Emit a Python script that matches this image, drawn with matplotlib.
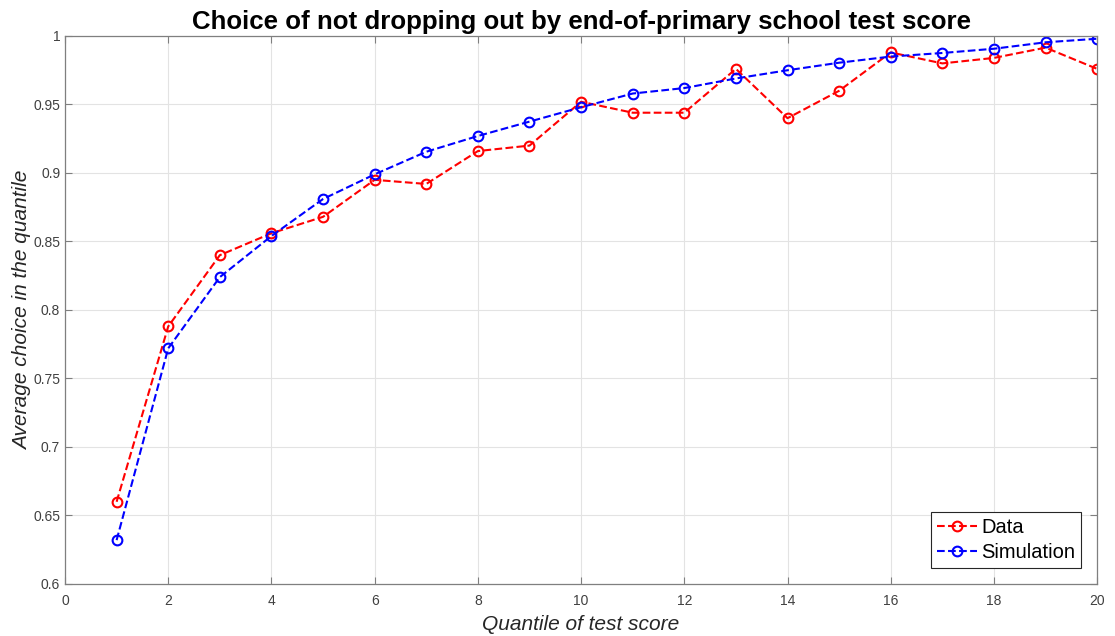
import numpy as np
import matplotlib
matplotlib.use('Agg')
import matplotlib.pyplot as plt

quantile = list(range(1, 21))
data = [0.660, 0.788, 0.840, 0.856, 0.868, 0.895, 0.892, 0.916, 0.920, 0.952,
        0.944, 0.944, 0.976, 0.940, 0.960, 0.988, 0.980, 0.984, 0.9915, 0.976]
simulation = [0.632, 0.772, 0.824, 0.854, 0.881, 0.899, 0.9155, 0.927, 0.9375, 0.948,
              0.958, 0.962, 0.969, 0.975, 0.9805, 0.985, 0.9876, 0.9907, 0.9954, 0.998]
xticks = list(range(0, 21, 2))
yticks = [0.6, 0.65, 0.7, 0.75, 0.8, 0.85, 0.9, 0.95, 1.0]
yticklabels = ['0.6', '0.65', '0.7', '0.75', '0.8', '0.85', '0.9', '0.95', '1']


def main():
  plt.rcParams['font.family'] = ['Liberation Sans', 'DejaVu Sans']
  fig = plt.figure(figsize=(11.15, 6.36), dpi=100)
  ax = fig.add_axes([0.0583, 0.0818, 0.9257, 0.8616])

  ax.plot(quantile, data, '--o', color='red', lw=1.5, ms=7, mfc='none', mew=1.5, label='Data')
  ax.plot(quantile, simulation, '--o', color='blue', lw=1.5, ms=7, mfc='none', mew=1.5, label='Simulation')

  ax.set_xlim(0, 20)
  ax.set_ylim(0.6, 1.0)
  ax.set_xticks(xticks)
  ax.set_yticks(yticks)
  ax.set_yticklabels(yticklabels)
  ax.grid(True, color='#e3e3e3', lw=0.8)
  ax.set_axisbelow(True)
  ax.tick_params(direction='in', length=5, colors='#7f7f7f', labelsize=10, labelcolor='#404040')
  ax.tick_params(top=True, right=True)
  ax.tick_params(axis='x', pad=7)
  for s in ax.spines.values():
    s.set_color('#7f7f7f')
    s.set_linewidth(0.9)

  ax.set_title('Choice of not dropping out by end-of-primary school test score',
               fontsize=18.6, fontweight='bold', pad=5)
  ax.set_xlabel('Quantile of test score', fontsize=15, style='italic', color='#262626', labelpad=5)
  ax.set_ylabel('Average choice in the quantile', fontsize=15, style='italic', color='#262626', labelpad=1)

  leg = ax.legend(loc='lower right', fontsize=14.5, fancybox=False, framealpha=1,
                  edgecolor='#262626', handlelength=2.0, borderaxespad=0.8,
                  handletextpad=0.2, borderpad=0.3, labelspacing=0.3)
  leg.get_frame().set_linewidth(0.8)

  plt.savefig('out.png', dpi=100)


if __name__ == "__main__":
  main()
